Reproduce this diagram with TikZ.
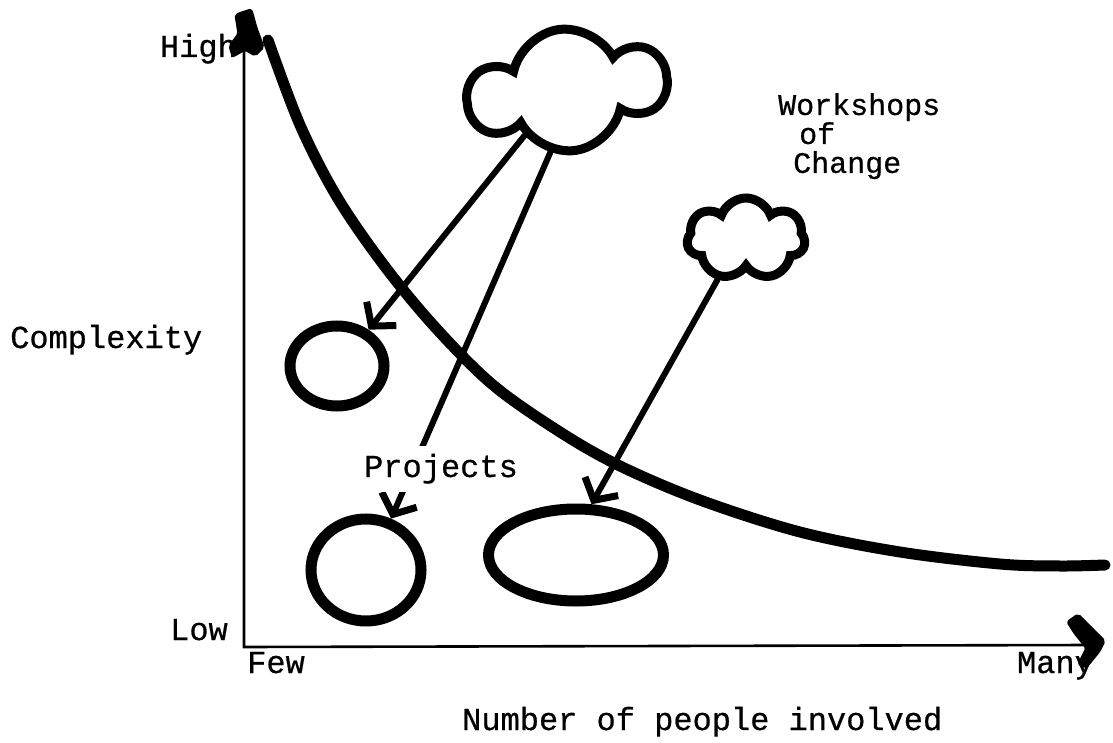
\documentclass[tikz,border=0pt]{standalone}
\usepackage{fontspec}
\usetikzlibrary{shapes.geometric,shapes.symbols,arrows.meta}
\newfontfamily\twfont{Liberation Mono}[FakeBold=0.6]
\begin{document}
\begin{tikzpicture}[x=1pt,y=-1pt,
  lbl/.style={inner sep=0pt, font=\twfont\fontsize{32}{38}\selectfont},
  axisline/.style={line width=2.6pt},
  heavy/.style={line width=11pt, line cap=round, line join=round},
  puffy/.style={cloud, cloud ignores aspect, draw, line width=9pt, inner sep=0pt},
  blob/.style={ellipse, draw, line width=11pt, inner sep=0pt},
  axistip/.style={fill, draw, line width=3pt, line join=round, rounded corners=2pt},
  shaft/.style={line width=6pt, line cap=round,
    -{Straight Barb[length=16pt,width=38pt,line width=7pt]}}]
\useasboundingbox (0,0) rectangle (1113,743);

% axes
\coordinate (origin) at (244,647);
\coordinate (ytop) at (244,30);
\coordinate (xend) at (1090,645);
\draw[axisline] (ytop) -- (origin) -- (xend);
\path[axistip] (236,15) -- (251,10) -- (256,28) -- (263,47) -- (255,55) -- (245,49)
  -- (233,56) -- (230,46) -- (239,34) -- cycle;
\path[axistip] (1068,622) -- (1078,615) -- (1104,641) -- (1099,651) -- (1086,667)
  -- (1079,664) -- (1087,648) -- (1075,633) -- cycle;

% clouds and blobs
\node[puffy, cloud puffs=6, cloud puff arc=140, minimum width=195pt, minimum height=122pt, rotate=8] (bigcloud) at (567,90) {};
\node[puffy, cloud puffs=7, cloud puff arc=140, minimum width=118pt, minimum height=82pt] (smallcloud) at (746,239) {};
\node[blob, minimum width=94pt, minimum height=80pt] (circA) at (337,366) {};
\node[blob, minimum width=110pt, minimum height=102pt] (circB) at (366,570) {};
\node[blob, minimum width=175pt, minimum height=92pt] (oval) at (576,555) {};

% arrows
\draw[shaft] (bigcloud.219) -- (circA.49);
\draw[shaft] (bigcloud.247) -- (circB.64);
\draw[shaft] (smallcloud.235) -- (oval.73);

% labels
\node[lbl, anchor=base west, fill=white, inner ysep=8pt] (proj) at (364,477) {Projects};
\node[lbl, anchor=base east] (high) at (237,57) {High};
\node[lbl, anchor=base east] (low) at (228,640) {Low};
\node[lbl, anchor=base west] (few) at (247,673) {Few};
\node[lbl, anchor=base east] (many) at (1094,673) {Many};
\node[lbl, anchor=base west] (cplx) at (10,348) {Complexity};
\node[lbl, anchor=base west] (xlabel) at (462,730) {Number of people involved};
\node[lbl, anchor=north west, align=left, font=\twfont\fontsize{30}{29}\selectfont]
  (workshops) at (778,93) {Workshops\\\hspace*{21pt}of\\\hspace*{15pt}Change};

% trade-off curve
\draw[heavy] plot[smooth, tension=0.55] coordinates {
  (268,40) (300,125) (337,197) (383,264) (434,326) (493,385) (560,432)
  (620,466) (700,500) (800,532) (900,552) (1000,564) (1060,566) (1105,565)};
\end{tikzpicture}
\end{document}
